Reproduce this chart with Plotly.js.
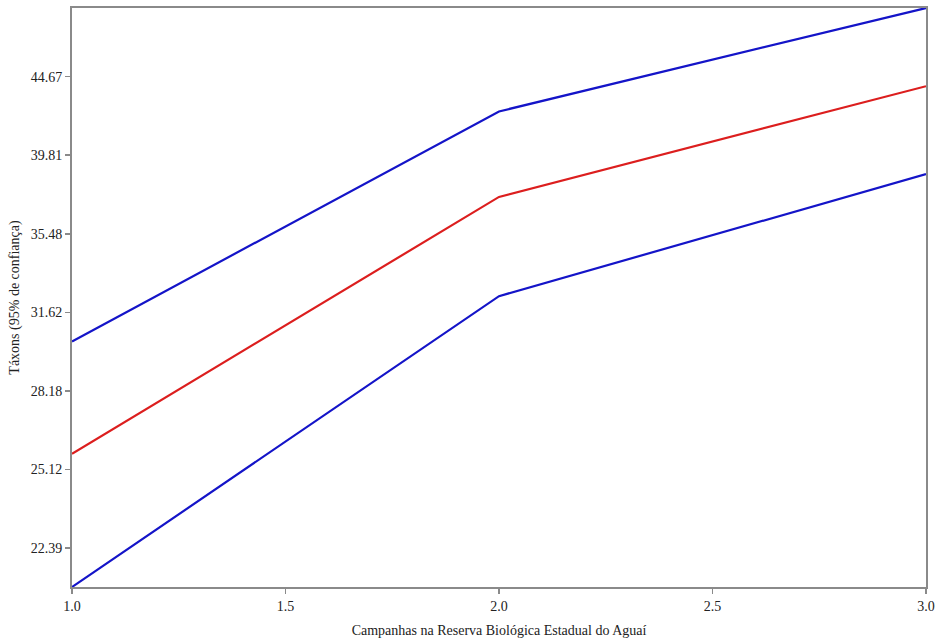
<!DOCTYPE html>
<html>
<head>
<meta charset="utf-8">
<script src="https://cdn.plot.ly/plotly-3.0.1.min.js"></script>
<style>html,body{margin:0;padding:0;background:#fff;}#chart{width:939px;height:641px;}</style>
</head>
<body>
<div id="chart"></div>
<script>
const campaigns = [1, 2, 3];
const taxaMean = [25.7, 37.45, 44.05];
const taxaUpper = [30.3, 42.45, 49.4];
const taxaLower = [21.14, 32.38, 38.72];
const yTickVals = [22.39, 25.12, 28.18, 31.62, 35.48, 39.81, 44.67];
const yTickText = ["22.39", "25.12", "28.18", "31.62", "35.48", "39.81", "44.67"];
const xTickVals = [1.0, 1.5, 2.0, 2.5, 3.0];
const xTickText = ["1.0", "1.5", "2.0", "2.5", "3.0"];

const blue = 'rgb(20,20,200)';
const red = 'rgb(220,30,30)';
const traces = [
  {x: campaigns, y: taxaUpper, mode: 'lines', line: {color: blue, width: 2.2}},
  {x: campaigns, y: taxaLower, mode: 'lines', line: {color: blue, width: 2.2}},
  {x: campaigns, y: taxaMean, mode: 'lines', line: {color: red, width: 2.2}}
];
const font = {family: '"Liberation Serif", "Times New Roman", serif', size: 14, color: '#222'};
const layout = {
  width: 939, height: 641,
  margin: {l: 72, r: 13, t: 8, b: 54},
  showlegend: false,
  paper_bgcolor: '#fff', plot_bgcolor: '#fff',
  font: font,
  xaxis: {
    range: [1, 3], tickvals: xTickVals, ticktext: xTickText,
    showgrid: false, zeroline: false,
    showline: true, linecolor: '#8a8a8a', linewidth: 2, mirror: true,
    ticks: 'outside', ticklen: 5, tickwidth: 1.5, tickcolor: '#8a8a8a',
    tickfont: font,
    title: {text: 'Campanhas na Reserva Biológica Estadual do Aguaí', font: font, standoff: 12}
  },
  yaxis: {
    type: 'log',
    range: [Math.log10(taxaLower[0]), Math.log10(taxaUpper[2])],
    tickvals: yTickVals, ticktext: yTickText,
    showgrid: false, zeroline: false,
    showline: true, linecolor: '#8a8a8a', linewidth: 2, mirror: true,
    ticks: 'outside', ticklen: 5, tickwidth: 1.5, tickcolor: '#8a8a8a',
    tickfont: font,
    title: {text: 'Táxons (95% de confiança)', font: font, standoff: 8}
  }
};
Plotly.newPlot('chart', traces, layout, {displayModeBar: false, staticPlot: true});
</script>
</body>
</html>
